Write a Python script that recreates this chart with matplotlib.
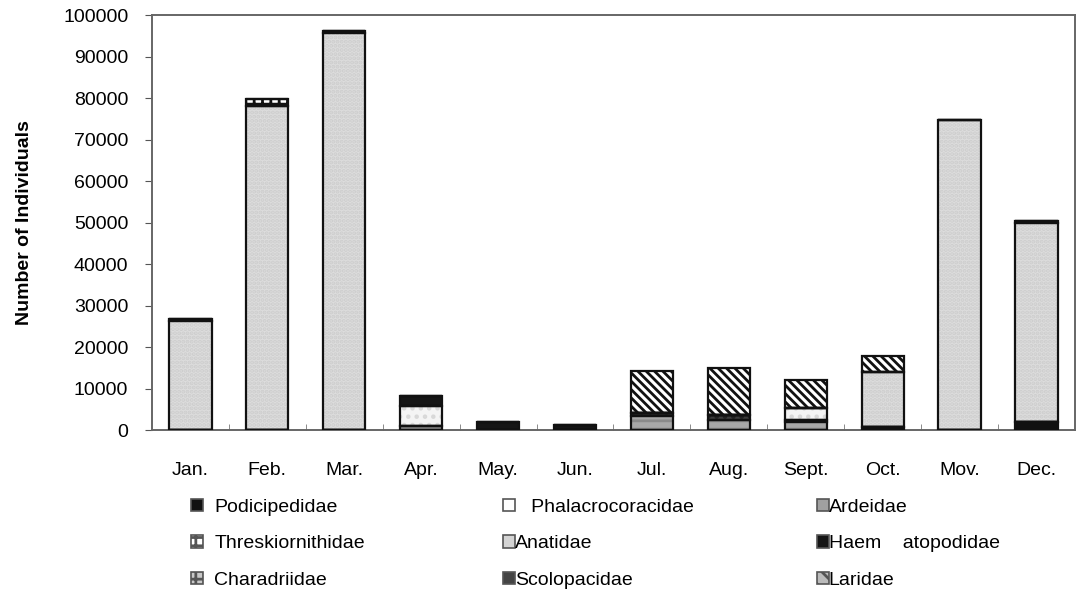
import matplotlib
matplotlib.use('Agg')
import matplotlib.pyplot as plt
from matplotlib.patches import Patch
import numpy as np

plt.rcParams['font.family'] = ['Liberation Sans', 'DejaVu Sans']
plt.rcParams['hatch.linewidth'] = 2.0

months = ['Jan.', 'Feb.', 'Mar.', 'Apr.', 'May.', 'Jun.', 'Jul.', 'Aug.',
          'Sept.', 'Oct.', 'Mov.', 'Dec.']

# individuals counted per family and month
podicipedidae = [0, 0, 0, 0, 0, 0, 0, 0, 0, 800, 0, 2000]
ardeidae = [0, 0, 0, 1000, 0, 0, 3300, 2500, 2000, 0, 0, 0]
scolopacidae = [0, 0, 0, 0, 0, 0, 800, 1100, 500, 0, 0, 0]
charadriidae = [0, 0, 0, 0, 0, 0, 0, 0, 0, 0, 0, 0]
phalacrocoracidae = [0, 0, 0, 4800, 0, 0, 0, 0, 2800, 0, 0, 0]
anatidae = [26300, 78000, 95700, 0, 0, 0, 0, 0, 0, 13300, 74700, 48000]
haematopodidae = [400, 0, 400, 2400, 2000, 1300, 0, 0, 0, 0, 0, 300]
threskiornithidae = [0, 1800, 0, 0, 0, 0, 0, 0, 0, 0, 0, 0]
laridae = [0, 0, 0, 0, 0, 0, 10100, 11400, 6700, 3700, 0, 0]

# (label, values, face, hatch, hatch colour, legend face, legend hatch)
# listed from the bottom of the stack to the top
series = [
    ('Podicipedidae', podicipedidae, '#111111', '', '#111111', '#111111', ''),
    ('Ardeidae', ardeidae, '#a8a8a8', '--', '#8a8a8a', '#a0a0a0', ''),
    ('Scolopacidae', scolopacidae, '#3c3c3c', '..', '#222222', '#444444', ''),
    ('Charadriidae', charadriidae, '#9a9a9a', '++', '#dddddd', '#c8c8c8', '++'),
    ('Phalacrocoracidae', phalacrocoracidae, '#f4f4f4', '..', '#d8d8d8',
     '#ffffff', ''),
    ('Anatidae', anatidae, '#dddddd', '....', '#cdcdcd', '#d4d4d4', ''),
    ('Haem    atopodidae', haematopodidae, '#151515', '', '#151515',
     '#151515', ''),
    ('Threskiornithidae', threskiornithidae, '#ffffff', '++', '#111111',
     '#ffffff', '++'),
    ('Laridae', laridae, '#ffffff', '\\\\\\\\', '#111111', '#bbbbbb', '\\\\'),
]

fig = plt.figure(figsize=(10.77, 5.94), dpi=100)
ax = fig.add_axes([0.1411, 0.276, 0.857, 0.6987])

x = np.arange(len(months))
width = 0.55
bottom = np.zeros(len(months))
handles = {}
for label, vals, face, hatch, hcol, lface, lhatch in series:
    vals = np.array(vals, dtype=float)
    ax.bar(x, vals, width, bottom=bottom, color=face, hatch=hatch,
           edgecolor=hcol, linewidth=0, zorder=2)
    ax.bar(x, vals, width, bottom=bottom, fill=False, edgecolor='#111111',
           linewidth=1.6, zorder=3)
    bottom += vals
    handles[label] = Patch(facecolor=lface, hatch=lhatch, edgecolor='#555555',
                           linewidth=1.2)

ax.set_xlim(-0.5, len(months) - 0.5)
ax.set_ylim(0, 100000)
ax.set_yticks(np.arange(0, 100001, 10000))
ax.set_xticks(x)
ax.set_xticklabels(months)
ax.set_xticks(x[:-1] + 0.5, minor=True)
ax.tick_params(axis='x', which='major', length=0, pad=23, labelsize=14)
ax.tick_params(axis='x', which='minor', direction='in', length=4,
               color='#777777')
ax.tick_params(axis='y', direction='out', length=5, pad=12, labelsize=14,
               color='#555555')
for s in ax.spines.values():
    s.set_color('#666666')
    s.set_linewidth(1.4)
ax.set_ylabel('Number of Individuals', fontsize=14, fontweight='bold',
              labelpad=22)

# three legend columns laid out row by row
cols = [
    (['Podicipedidae', 'Threskiornithidae', 'Charadriidae'], 0.1773, 0.6),
    (['Phalacrocoracidae', 'Anatidae', 'Scolopacidae'], 0.467, 0.0),
    (['Ardeidae', 'Haem    atopodidae', 'Laridae'], 0.7586, 0.0),
]
for names, xpos, gap in cols:
    labels = ['   ' + n if n == 'Phalacrocoracidae' else n for n in names]
    fig.legend([handles[n] for n in names], labels, loc='upper left',
               bbox_to_anchor=(xpos, 0.160), frameon=False, fontsize=14,
               handlelength=0.6, handleheight=0.6, handletextpad=gap,
               labelspacing=1.0, borderpad=0, borderaxespad=0)

fig.savefig('out.png', dpi=100)
